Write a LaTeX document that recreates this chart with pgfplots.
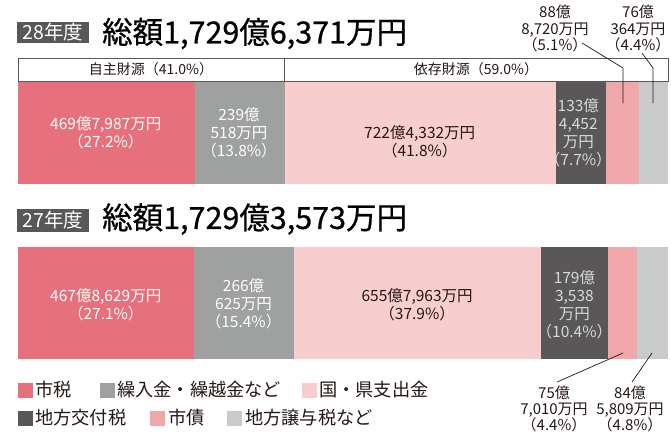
\documentclass[border=0pt]{standalone}
\usepackage{fontspec}
\setmainfont{Noto Sans CJK JP}
\newfontfamily\tfont{Noto Sans CJK JP}[FakeBold=0.7]
\usepackage{pgfplots}
\pgfplotsset{compat=1.18}
\definecolor{c1}{HTML}{E6717C}
\definecolor{c2}{HTML}{9FA0A0}
\definecolor{c3}{HTML}{F7CDCD}
\definecolor{c4}{HTML}{595757}
\definecolor{c5}{HTML}{EFA7AA}
\definecolor{c6}{HTML}{C9CACA}
\definecolor{txt}{HTML}{231815}
\newcommand{\fs}[2]{\fontsize{#1}{#2}\selectfont}
\tikzset{lab/.style={align=center, inner sep=0pt, font=\fs{15.5}{18}}}
\pgfplotsset{barax/.style={scale only axis, width=650pt, xmin=0, xmax=100,
  ymin=-0.5, ymax=0.5, hide axis, xbar stacked, clip=false, anchor=south west}}
\begin{document}
\begin{tikzpicture}
\useasboundingbox (0pt,0pt) rectangle (671pt,-434pt);
% ---- 28年度
\begin{axis}[barax, at={(18pt,-184pt)}, height=103pt, bar width=103pt]
\addplot[fill=c1, draw=none] coordinates {(27.2,0)};
\addplot[fill=c2, draw=none] coordinates {(13.8,0)};
\addplot[fill=c3, draw=none] coordinates {(41.8,0)};
\addplot[fill=c4, draw=none] coordinates {(7.7,0)};
\addplot[fill=c5, draw=none] coordinates {(5.1,0)};
\addplot[fill=c6, draw=none] coordinates {(4.4,0)};
\coordinate (a1) at (axis cs:13.5,0);
\coordinate (a2) at (axis cs:34,0);
\coordinate (a3) at (axis cs:61.8,-0.09);
\coordinate (a4) at (axis cs:86.2,0);
\end{axis}
\node[lab, white] at (a1) {469億7,987万円\\（27.2\%）};
\node[lab, white] at (a2) {239億\\518万円\\（13.8\%）};
\node[lab, txt] at (a3) {722億4,332万円\\（41.8\%）};
\node[lab, black!15] at (a4) {133億\\4,452\\万円\\（7.7\%）};
% ---- 27年度
\begin{axis}[barax, at={(18pt,-359pt)}, height=112pt, bar width=112pt]
\addplot[fill=c1, draw=none] coordinates {(27.1,0)};
\addplot[fill=c2, draw=none] coordinates {(15.4,0)};
\addplot[fill=c3, draw=none] coordinates {(37.9,0)};
\addplot[fill=c4, draw=none] coordinates {(10.4,0)};
\addplot[fill=c5, draw=none] coordinates {(4.4,0)};
\addplot[fill=c6, draw=none] coordinates {(4.8,0)};
\coordinate (b1) at (axis cs:13.5,-0.018);
\coordinate (b2) at (axis cs:34.7,-0.01);
\coordinate (b3) at (axis cs:61.4,-0.018);
\coordinate (b4) at (axis cs:85.6,-0.018);
\end{axis}
\node[lab, white] at (b1) {467億8,629万円\\（27.1\%）};
\node[lab, white] at (b2) {266億\\625万円\\（15.4\%）};
\node[lab, txt] at (b3) {655億7,963万円\\（37.9\%）};
\node[lab, black!15] at (b4) {179億\\3,538\\万円\\（10.4\%）};
\begin{scope}[x=1pt, y=-1pt]
% titles
\fill[c4] (17,21.5) rectangle (89,42.5);
\node[white, inner sep=0pt, font=\fs{19.5}{20}] at (53,32) {28年度};
\node[black, anchor=west, inner sep=0pt, font=\tfont\fs{30.5}{31}] at (102,33.5) {総額1,729億6,371万円};
\fill[c4] (17,208.5) rectangle (89,231.5);
\node[white, inner sep=0pt, font=\fs{19.5}{20}] at (53,220) {27年度};
\node[black, anchor=west, inner sep=0pt, font=\tfont\fs{30.5}{31}] at (102,219) {総額1,729億3,573万円};
% header
\draw[draw=c4, line width=0.8pt, fill=white] (18,58) rectangle (284,81);
\draw[draw=c4, line width=0.8pt, fill=white] (284,58) rectangle (668,81);
\node[txt, inner sep=0pt, font=\fs{14}{14}] at (151,69.5) {自主財源（41.0\%）};
\node[txt, inner sep=0pt, font=\fs{14}{14}] at (476,69.5) {依存財源（59.0\%）};
% callouts 28
\node[txt, align=center, inner sep=0pt, font=\fs{15}{16.5}] at (555,28.5) {88億\\8,720万円\\（5.1\%）};
\node[txt, align=center, inner sep=0pt, font=\fs{15}{16.5}] at (638,28.5) {76億\\364万円\\（4.4\%）};
\draw[txt, line width=0.7pt] (582,43) -- (623,68) -- (623,103);
\draw[txt, line width=0.7pt] (642,53) -- (653,68) -- (653,103);
% callouts 27
\node[txt, align=center, inner sep=0pt, font=\fs{15}{16}] at (554,408.5) {75億\\7,010万円\\（4.4\%）};
\node[txt, align=center, inner sep=0pt, font=\fs{15}{16}] at (630,408.5) {84億\\5,809万円\\（4.8\%）};
\draw[txt, line width=0.7pt] (557,382) -- (623,353);
\draw[txt, line width=0.7pt] (632,382) -- (652,353);
% legend
\tikzset{lsq/.style={inner sep=0pt, minimum size=15pt}, ltx/.style={txt, anchor=west, inner sep=0pt, font=\fs{18.2}{19}}}
\node[lsq, fill=c1] at (25,390) {}; \node[ltx] at (35,390) {市税};
\node[lsq, fill=c2] at (107.5,390) {}; \node[ltx] at (117,390) {繰入金・繰越金など};
\node[lsq, fill=c3] at (309.5,390) {}; \node[ltx] at (319,390) {国・県支出金};
\node[lsq, fill=c4] at (25,418) {}; \node[ltx] at (35,418) {地方交付税};
\node[lsq, fill=c5] at (157.5,418) {}; \node[ltx] at (168,418) {市債};
\node[lsq, fill=c6] at (234.5,418) {}; \node[ltx] at (245,418) {地方譲与税など};
\end{scope}
\end{tikzpicture}
\end{document}
